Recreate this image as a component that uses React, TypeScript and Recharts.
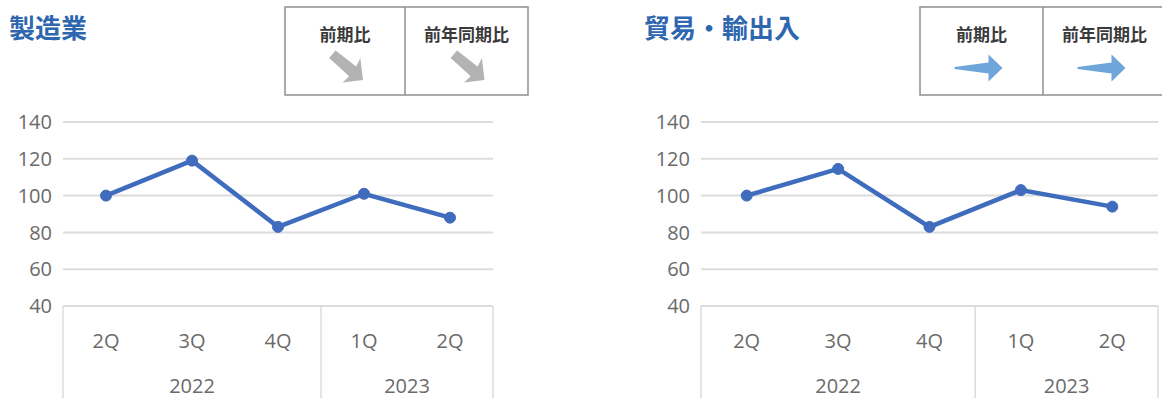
import React from 'react';
import { LineChart, Line, XAxis, YAxis, CartesianGrid } from 'recharts';

const quarters = ['2Q', '3Q', '4Q', '1Q', '2Q'];
const years = ['2022', '2022', '2022', '2023', '2023'];
const manufacturing = [100, 119, 83, 101, 88];
const trade = [100, 114.5, 83, 103, 94];
const yTicks = [40, 60, 80, 100, 120, 140];
const badgeLabels = ['前期比', '前年同期比'];
const titles = ['製造業', '貿易・輸出入'];

const FONT = '"Open Sans", "Noto Sans", sans-serif';
const JP = '"Noto Sans CJK JP", sans-serif';
const LINE_COLOR = '#3F6CBD';
const GRID = '#dcdcdc';
const H = 398;
const X_AXIS_H = 92;
const TOP = 122;

type Row = { key: string; q: string; year: string; v: number };

function buildRows(values: number[]): Row[] {
  return quarters.map((q, i) => ({ key: `${years[i]}-${q}`, q, year: years[i], v: values[i] }));
}

function makeTick(rows: Row[], plotWidth: number) {
  const band = plotWidth / rows.length;
  const plotBottom = H - X_AXIS_H;
  return (props: any) => {
    const { x, payload } = props;
    const i: number = payload.index;
    const row = rows[i];
    const els: React.ReactNode[] = [];
    els.push(
      <text key="q" x={x} y={340} textAnchor="middle" dominantBaseline="central"
        fill="#6a6a6a" fontSize={20} fontFamily={FONT}>{row.q}</text>
    );
    const start = i === 0 || rows[i - 1].year !== row.year;
    if (start) {
      let n = 1;
      while (i + n < rows.length && rows[i + n].year === row.year) n++;
      const left = x - band / 2;
      els.push(<line key="l" x1={left} x2={left} y1={plotBottom} y2={H} stroke={GRID} strokeWidth={1.5} />);
      els.push(
        <text key="y" x={left + (n * band) / 2} y={385} textAnchor="middle" dominantBaseline="central"
          fill="#6a6a6a" fontSize={20} fontFamily={FONT}>{row.year}</text>
      );
    }
    if (i === rows.length - 1) {
      const right = x + band / 2;
      els.push(<line key="r" x1={right} x2={right} y1={plotBottom} y2={H} stroke={GRID} strokeWidth={1.5} />);
    }
    return <g>{els}</g>;
  };
}

type PanelProps = {
  left: number;
  width: number;
  yAxisWidth: number;
  marginRight: number;
  values: number[];
};

function Panel({ left, width, yAxisWidth, marginRight, values }: PanelProps) {
  const rows = buildRows(values);
  const plotWidth = width - yAxisWidth - marginRight;
  return (
    <div style={{ position: 'absolute', left, top: 0 }}>
      <LineChart width={width} height={H} data={rows}
        margin={{ top: TOP, right: marginRight, left: 0, bottom: 0 }}>
        <CartesianGrid vertical={false} stroke={GRID} strokeWidth={2} />
        <XAxis dataKey="key" scale="band" height={X_AXIS_H} axisLine={false} tickLine={false}
          interval={0} tick={makeTick(rows, plotWidth)} />
        <YAxis domain={[40, 140]} ticks={yTicks} width={yAxisWidth} axisLine={false}
          tickLine={false} tickSize={0} tickMargin={11}
          tick={{ fill: '#6a6a6a', fontSize: 20, fontFamily: FONT }} />
        <Line dataKey="v" stroke={LINE_COLOR} strokeWidth={4.5} isAnimationActive={false}
          dot={{ r: 5.5, fill: LINE_COLOR, stroke: LINE_COLOR, strokeWidth: 1 }} />
      </LineChart>
    </div>
  );
}

function Badge({ x, w1, w2, kind }: { x: number; w1: number; w2: number; kind: 'down' | 'flat' }) {
  const cells = [w1, w2];
  let cx = x;
  const parts: React.ReactNode[] = [];
  cells.forEach((w, i) => {
    const center = cx + w / 2;
    parts.push(
      <text key={'t' + i} x={center} y={33} textAnchor="middle" dominantBaseline="central"
        fontSize={17} fontWeight={700} fontFamily={JP} fill="#3a3a3a">{badgeLabels[i]}</text>
    );
    if (kind === 'flat') {
      parts.push(
        <polygon key={'a' + i} transform={`translate(${center + 21},68)`}
          points="-48,-1 -14,-5.5 -14,-13.5 0,0 -14,13.5 -14,5.5 -48,1" fill="#6fa6da" />
      );
    } else {
      parts.push(
        <polygon key={'a' + i} transform={`translate(${center + 18},80) rotate(40)`}
          points="-40,-5 -14,-6 -16,-15 0,0 -14,15 -13,6 -40,5" fill="#b3b3b3" />
      );
    }
    cx += w;
  });
  return (
    <g>
      <rect x={x} y={7} width={w1 + w2} height={88} fill="none" stroke="#8f8f8f" strokeWidth={1.5} />
      <line x1={x + w1} x2={x + w1} y1={7} y2={95} stroke="#8f8f8f" strokeWidth={1.5} />
      {parts}
    </g>
  );
}

export default function App() {
  return (
    <div style={{ position: 'absolute', left: 0, top: 0, width: 1162, height: H, background: '#fff', overflow: 'hidden' }}>
      <Panel left={0} width={560} yAxisWidth={63} marginRight={67} values={manufacturing} />
      <Panel left={600} width={562} yAxisWidth={101} marginRight={4} values={trade} />
      <svg width={1162} height={110} style={{ position: 'absolute', left: 0, top: 0 }}>
        <text x={9} y={26} dominantBaseline="central" fontSize={26} fontWeight={700} fontFamily={JP} fill="#2E66B0">{titles[0]}</text>
        <text x={644} y={26} dominantBaseline="central" fontSize={26} fontWeight={700} fontFamily={JP} fill="#2E66B0">{titles[1]}</text>
        <Badge x={285} w1={120} w2={123} kind="down" />
        <Badge x={920} w1={123} w2={123} kind="flat" />
      </svg>
    </div>
  );
}
